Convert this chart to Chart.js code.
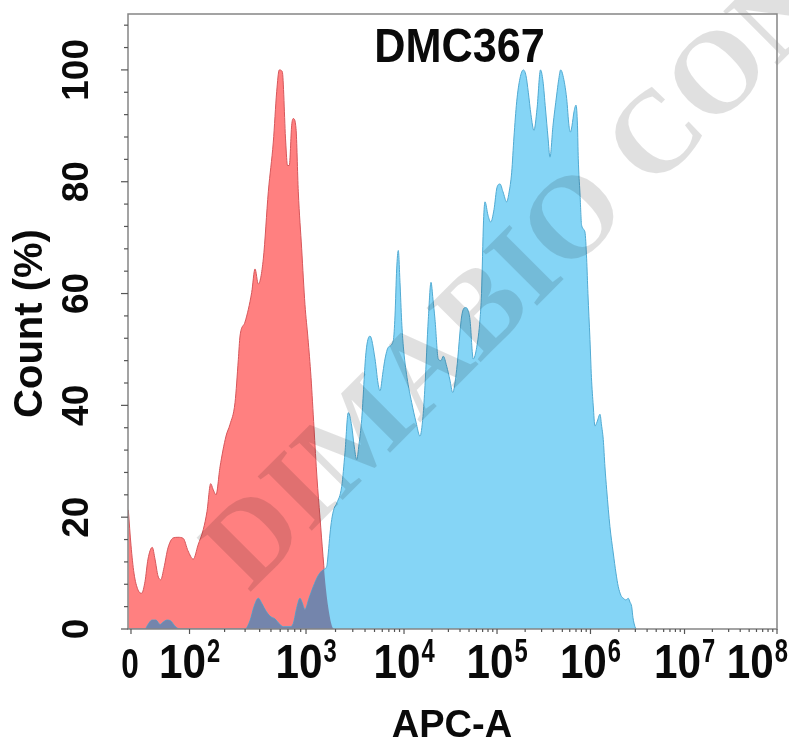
<!DOCTYPE html>
<html><head><meta charset="utf-8">
<script src="https://cdn.jsdelivr.net/npm/chart.js@4.4.0/dist/chart.umd.min.js"></script>
<style>html,body{margin:0;padding:0;background:#fff;}#wrap{width:789px;height:749px;}</style>
</head><body><div id="wrap"><canvas id="c" width="789" height="749"></canvas></div>
<script>
// ---- data (x = display channel on the biexponential APC-A axis, 0..1000; y = Count %) ----
const chartTitle = 'DMC367';
const xTitle = 'APC-A';
const yTitle = 'Count (%)';
const watermarkText = 'DIMABIO CONFIDENTIAL';

const controlX = [0.5, 4.6, 9.2, 15.4, 21.1, 26.2, 30.8, 37.4, 41.6, 46.2, 50.4, 55.5, 61.6, 69.8, 77.0, 85.2, 92.4, 100.6, 107.9, 116.0, 121.7, 127.4, 131.0, 135.6, 141.8, 151.0, 157.2, 164.9, 170.0, 172.6, 180.3, 190.6, 195.7, 200.8, 208.5, 216.2, 223.9, 229.1, 233.1, 237.7, 243.0, 245.8, 248.5, 252.2, 254.7, 258.9, 262.4, 267.6, 272.7, 277.3, 282.0, 286.6, 291.2, 295.8, 300.5, 305.1, 309.7, 314.3, 317.4];
const controlY = [21.3, 15, 10, 7, 6.4, 8.5, 12.5, 14.6, 12.5, 9.5, 8.8, 11, 14.5, 16.3, 16.4, 16.2, 14, 12.5, 15, 17.8, 21, 26.0, 25, 24, 29, 34.5, 36.6, 40.5, 48.2, 52.4, 54.9, 60.2, 64.4, 61.7, 66.2, 78.2, 87.1, 96.1, 100, 99.7, 87.1, 82.9, 82.9, 90.1, 91.3, 89.5, 78.2, 68, 58, 52, 45, 36, 27, 20, 13, 7, 3, 0.5, 0];

const sampleX = [0, 26.2, 30.8, 37.0, 43.1, 49.3, 53.9, 60.1, 66.3, 72.4, 80.1, 180.3, 188.0, 194.1, 200.8, 206.5, 212.6, 218.8, 226.5, 232.6, 239.3, 249.6, 254.7, 260.4, 265.0, 268.1, 272.7, 278.9, 285.5, 292.8, 300.9, 306.2, 308.6, 311.2, 313.9, 317.4, 321.6, 329.3, 334.3, 339.4, 344.7, 348.2, 352.4, 355.9, 360.1, 366.7, 372.9, 380.6, 385.2, 388.3, 392.9, 396.0, 401.1, 408.8, 411.4, 414.0, 416.5, 419.1, 421.7, 424.2, 429.9, 437.1, 443.8, 449.9, 454.5, 457.6, 462.7, 466.9, 469.9, 473.0, 478.1, 482.3, 485.8, 491.0, 496.1, 500.3, 506.4, 514.2, 520.3, 523.9, 526.9, 532.0, 537.3, 542.4, 544.7, 547.8, 550.1, 554.7, 558.9, 563.9, 568.6, 573.2, 577.8, 583.5, 587.0, 591.2, 594.7, 598.9, 604.0, 609.1, 613.2, 616.8, 620.9, 625.5, 630.2, 635.6, 639.4, 643.3, 647.1, 650.2, 654.8, 660.5, 663.3, 666.7, 670.2, 675.9, 679.5, 681.8, 684.1, 687.2, 690.3, 692.6, 693.8, 696.4, 699.0, 704.1, 706.7, 708.7, 711.8, 714.1, 716.9, 719.5, 722.6, 727.3, 729.6, 732.3, 734.9, 737.6, 742.6, 747.7, 751.9, 755.4, 759.6, 763.2, 767.3, 770.8, 773.5, 776.1, 778.1, 781.2, 782.7];
const sampleY = [0, 0, 0.8, 1.6, 1.6, 0.8, 1.2, 1.6, 1.4, 0.5, 0, 0, 1.5, 4, 5.5, 4.5, 3.2, 2.3, 1.8, 1.0, 0.4, 0.4, 1, 4, 5.5, 4.8, 3.5, 5.5, 7.6, 9.5, 10.6, 11.2, 13.6, 17, 19.6, 21.5, 22.5, 25.5, 31.5, 38.7, 36.3, 33, 30.3, 33, 37.5, 49.5, 52.4, 48.3, 44, 42.6, 46, 48.3, 50.4, 51.6, 56, 64.4, 67.7, 62, 55, 50.6, 45, 40.5, 37, 34.5, 38, 43.5, 55.4, 62.0, 59, 55.4, 48.3, 48, 48.8, 47, 44.5, 42.3, 46.4, 56, 57.5, 57, 55.4, 48.3, 50.4, 55.4, 60, 73, 76.4, 74, 72.8, 75, 79, 79.6, 78.2, 76.4, 78, 81.7, 88, 94.3, 98.5, 100, 99, 96, 92, 89.2, 93, 100, 98, 93, 88, 84.4, 90, 95.5, 98, 100, 99, 94.9, 90, 88.9, 90, 92.5, 93.7, 90, 84.1, 78, 72.2, 71, 66.2, 60, 51.8, 45, 39.9, 36.3, 37, 38.4, 36.5, 33.9, 29, 24.9, 18.3, 13.6, 10, 7.6, 6, 5.5, 5.2, 5.5, 4.8, 4.0, 2, 0.4, 0];

// axis ticks: channel of each labelled tick and its label
const xTickChannels = [4.6, 94.8, 274.3, 425.3, 568.6, 712.6, 857.5, 1000];
const xTickBase = ['0', '10', '10', '10', '10', '10', '10', '10'];
const xTickExp = ['', '2', '3', '4', '5', '6', '7', '8'];
const yTickValues = [0, 20, 40, 60, 80, 100];
const yMinorStep = 4;
const yMax = 110;

// ---- styling ----
const SANS = '"Liberation Sans", Arial, sans-serif';
const redFill = 'rgb(255,128,128)', redLine = 'rgb(214,86,90)';
const blueFill = 'rgb(133,213,246)', blueLine = 'rgb(80,170,210)';
const overlapFill = 'rgb(116,133,172)';
const axisColor = '#858585';

const pts = (xs, ys) => xs.map((x, i) => ({ x, y: ys[i] }));

const deco = {
  id: 'deco',
  afterDatasetsDraw(chart) {
    const { ctx, chartArea: ca, scales: { x, y } } = chart;
    const y0 = y.getPixelForValue(0);
    // overlap region (both populations)
    const rm = chart.getDatasetMeta(0), bm = chart.getDatasetMeta(1);
    const areaPath = (meta) => {
      const d = meta.data;
      ctx.beginPath();
      meta.dataset.path(ctx);
      ctx.lineTo(d[d.length - 1].x, y0);
      ctx.lineTo(d[0].x, y0);
      ctx.closePath();
    };
    ctx.save();
    ctx.beginPath(); ctx.rect(ca.left, ca.top, ca.width, ca.height); ctx.clip();
    areaPath(rm); ctx.clip();
    areaPath(bm); ctx.fillStyle = overlapFill; ctx.fill();
    ctx.restore();

    // watermark
    ctx.save();
    ctx.translate(228, 572);
    ctx.rotate(-Math.PI / 4);
    ctx.font = 'bold 117px "Liberation Serif", "Times New Roman", serif';
    ctx.fillStyle = 'rgba(0,0,0,0.12)';
    ctx.textBaseline = 'middle';
    ctx.textAlign = 'left';
    ctx.fillText(watermarkText, 0, 0);
    ctx.restore();

    // frame
    ctx.save();
    ctx.strokeStyle = axisColor; ctx.lineWidth = 1.5;
    ctx.strokeRect(ca.left, ca.top, ca.width, ca.height);
    // y ticks
    ctx.strokeStyle = '#555'; ctx.lineWidth = 1.2;
    for (let v = 0; v <= yMax; v += yMinorStep) {
      const py = y.getPixelForValue(v);
      const len = v % 20 === 0 ? 7 : 4;
      ctx.beginPath(); ctx.moveTo(ca.left - len, py); ctx.lineTo(ca.left, py); ctx.stroke();
    }
    // x ticks (major + log minor)
    xTickChannels.forEach((c) => {
      const px = x.getPixelForValue(c);
      ctx.beginPath(); ctx.moveTo(px, ca.bottom); ctx.lineTo(px, ca.bottom + 5); ctx.stroke();
    });
    for (let i = 1; i < xTickChannels.length - 1; i++) {
      const a = xTickChannels[i], b = xTickChannels[i + 1];
      for (let k = 2; k <= 9; k++) {
        const px = x.getPixelForValue(a + (b - a) * Math.log10(k));
        ctx.beginPath(); ctx.moveTo(px, ca.bottom); ctx.lineTo(px, ca.bottom + 3); ctx.stroke();
      }
    }
    ctx.restore();

    // labels
    ctx.save();
    ctx.fillStyle = '#0a0a0a';
    ctx.textBaseline = 'alphabetic';
    // y tick labels (rotated)
    ctx.font = 'bold 37px ' + SANS;
    ctx.textAlign = 'center';
    yTickValues.forEach((v) => {
      const py = y.getPixelForValue(v);
      ctx.save(); ctx.translate(ca.left - 53, py); ctx.rotate(-Math.PI / 2);
      ctx.fillText(String(v), 0, 13); ctx.restore();
    });
    // y title
    ctx.save(); ctx.translate(42, (ca.top + ca.bottom) / 2 + 2); ctx.rotate(-Math.PI / 2);
    ctx.font = 'bold 40px ' + SANS; ctx.textAlign = 'center';
    ctx.fillText(yTitle, 0, 0); ctx.restore();
    // x tick labels
    const baseY = ca.bottom + 49;
    xTickChannels.forEach((c, i) => {
      const px = x.getPixelForValue(c);
      const base = xTickBase[i], exp = xTickExp[i];
      if (!exp) {
        ctx.save(); ctx.font = 'bold 42px ' + SANS; ctx.textAlign = 'center';
        ctx.translate(px - 1, baseY); ctx.scale(0.75, 1); ctx.fillText(base, 0, 0); ctx.restore();
        return;
      }
      ctx.font = 'bold 48px ' + SANS; const wb = ctx.measureText(base).width * 0.88;
      ctx.font = 'bold 33px ' + SANS; const we = ctx.measureText(exp).width * 0.72;
      let left = px - (wb + we + 1) / 2;
      if (left + wb + we + 1 > chart.width - 1) left = chart.width - 1 - (wb + we + 1);
      ctx.textAlign = 'left';
      ctx.save(); ctx.font = 'bold 48px ' + SANS; ctx.translate(left, baseY); ctx.scale(0.88, 1); ctx.fillText(base, 0, 0); ctx.restore();
      ctx.save(); ctx.font = 'bold 33px ' + SANS; ctx.translate(left + wb + 1, baseY - 16); ctx.scale(0.72, 1); ctx.fillText(exp, 0, 0); ctx.restore();
    });
    // x title
    ctx.font = 'bold 38px ' + SANS; ctx.textAlign = 'center';
    ctx.fillText(xTitle, 452, 737);
    // chart title
    ctx.save(); ctx.font = 'bold 48px ' + SANS; ctx.textAlign = 'center';
    ctx.translate((ca.left + ca.right) / 2 + 7, 62); ctx.scale(0.9, 1); ctx.fillText(chartTitle, 0, 0); ctx.restore();
    ctx.restore();
  }
};

new Chart(document.getElementById('c'), {
  type: 'line',
  data: {
    datasets: [
      { label: 'Control', data: pts(controlX, controlY), order: 2, fill: 'origin',
        backgroundColor: redFill, borderColor: redLine, borderWidth: 1,
        pointRadius: 0, cubicInterpolationMode: 'monotone', tension: 0.4 },
      { label: 'DMC367', data: pts(sampleX, sampleY), order: 1, fill: 'origin',
        backgroundColor: blueFill, borderColor: blueLine, borderWidth: 1,
        pointRadius: 0, cubicInterpolationMode: 'monotone', tension: 0.4 }
    ]
  },
  options: {
    responsive: false, animation: false, devicePixelRatio: 1,
    layout: { padding: { left: 128, right: 12, top: 14, bottom: 120 } },
    plugins: { legend: { display: false }, tooltip: { enabled: false }, title: { display: false } },
    scales: {
      x: { type: 'linear', min: 0, max: 1000, grid: { display: false }, ticks: { display: false },
           border: { display: false }, afterFit(s) { s.height = 0; } },
      y: { type: 'linear', min: 0, max: yMax, grid: { display: false }, ticks: { display: false },
           border: { display: false }, afterFit(s) { s.width = 0; } }
    }
  },
  plugins: [deco]
});
</script>
</body></html>
